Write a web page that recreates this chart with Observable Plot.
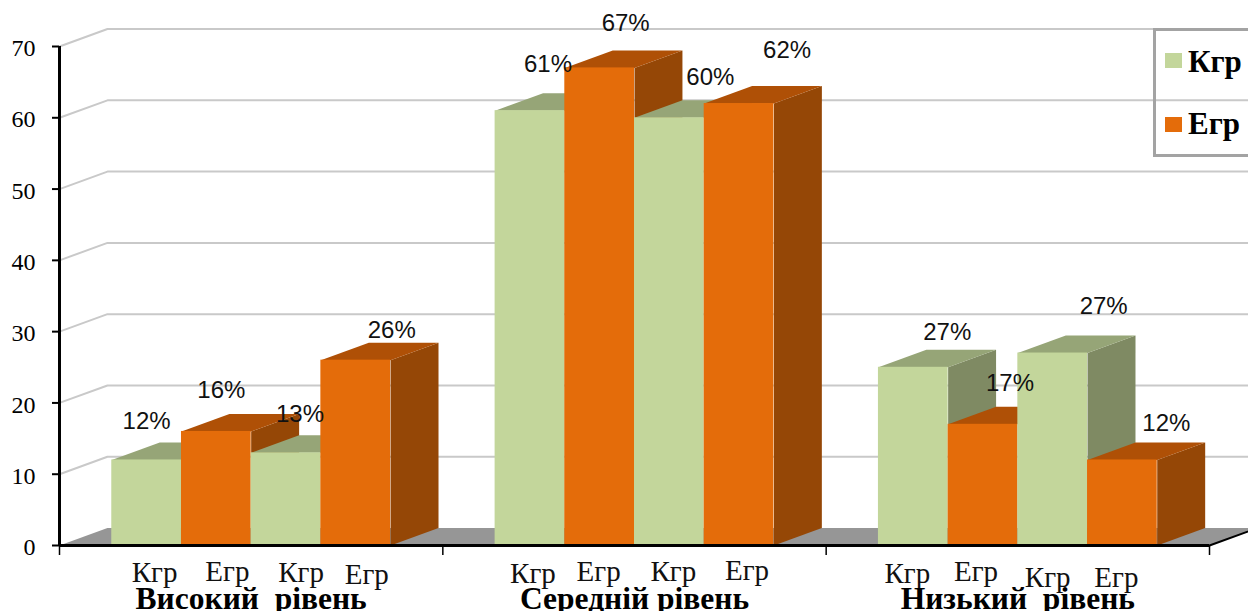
<!DOCTYPE html>
<html>
<head>
<meta charset="utf-8">
<script src="https://cdn.jsdelivr.net/npm/d3@7"></script>
<script src="https://cdn.jsdelivr.net/npm/@observablehq/plot@0.6"></script>
<style>
html,body{margin:0;padding:0;background:#fff;overflow:hidden}
#wrap{position:relative;width:1248px;height:611px;overflow:hidden}
#legend{position:absolute;left:1153px;top:28px;width:110px;height:123px;border:3px solid #a3a3a3;font:bold 31px "Liberation Serif",serif;color:#000}
#legend .row{position:absolute;left:0;display:flex;align-items:center;height:34px}
#legend .sw{width:17px;height:15px;margin-left:9px;margin-right:6px;position:relative}
#chart svg [aria-label="y-axis tick label"]{font-family:"Liberation Serif",serif;font-size:24px;fill:#000}
</style>
</head>
<body>
<div id="wrap">
<div id="chart"></div>
<div id="legend">
  <div class="row" style="top:14px"><span class="sw" style="background:#C3D69B;top:-1.5px"></span><span>Кгр</span></div>
  <div class="row" style="top:76px"><span class="sw" style="background:#E46C0A;top:0.5px"></span><span>Егр</span></div>
</div>
</div>
<script>
// --- data ---
const groups = ["Високий\u00a0 рівень", "Середній рівень", "Низький\u00a0 рівень"];
const seriesNames = ["Кгр", "Егр", "Кгр", "Егр"];
const values = [12, 16, 13, 26, 61, 67, 60, 62, 25, 17, 27, 12];
const percentLabels = ["12%", "16%", "13%", "26%", "61%", "67%", "60%", "62%", "27%", "17%", "27%", "12%"];
const yTicks = [0, 10, 20, 30, 40, 50, 60, 70];

// --- layout: hand placement of the labels, as in the reference (px) ---
const pctDx = [0, 5, 14, 36, 18, 26, 41, 48, 34, 27, 51, 44];
const pctDy = [-39, -41, -39, -30, -46, -45, -40, -53, -35, -41, -47, -37];
const catDx = [8, 11, 15, 11, 3, -1, 4, 8, -6, -7, -5, -6];
const catDy = [27, 26, 27, 29, 28, 26, 26, 25, 28, 26, 32, 32];

// --- 3D geometry in scale units ---
const groupSpan = 5.5, gap = 0.75, depthX = 0.688, depthY = 2.45;
const barX = i => Math.floor(i / 4) * groupSpan + gap + i % 4;
const poly = (pts, fill) => Plot.line(pts, {x: "0", y: "1", fill, stroke: "none", curve: "linear"});

const colors = {
  Кгр: {front: "#C3D69B", top: "#96A577", side: "#7F8A63"},
  Егр: {front: "#E46C0A", top: "#AF5006", side: "#954706"}
};
const xMax = groupSpan * groups.length;

const marks = [];
// floor
marks.push(poly([[0, 0], [depthX, depthY], [xMax + depthX, depthY], [xMax, 0]], "#969696"));
// gridlines on the side and back walls
for (const t of yTicks.slice(1)) {
  marks.push(Plot.line([[0, t], [depthX, t + depthY], [xMax + depthX, t + depthY]],
    {x: "0", y: "1", stroke: "#c9c9c9", strokeWidth: 2}));
}
// bars, painted from left to right
values.forEach((v, i) => {
  const x0 = barX(i), x1 = x0 + 1, c = colors[seriesNames[i % 4]];
  marks.push(poly([[x1, 0], [x1 + depthX, depthY], [x1 + depthX, v + depthY], [x1, v]], c.side));
  marks.push(poly([[x0, v], [x0 + depthX, v + depthY], [x1 + depthX, v + depthY], [x1, v]], c.top));
  marks.push(Plot.rect([v], {x1: () => x0, x2: () => x1, y1: () => 0, y2: d => d, fill: c.front}));
});
// axes
marks.push(Plot.ruleX([0], {y1: 0, y2: 70, stroke: "#000", strokeWidth: 3}));
marks.push(Plot.ruleY([0], {x1: 0, x2: xMax, stroke: "#000", strokeWidth: 3}));
marks.push(Plot.line([[xMax, 0], [xMax + depthX, depthY]], {x: "0", y: "1", stroke: "#000", strokeWidth: 2}));
marks.push(Plot.ruleX(d3.range(groups.length + 1).map(k => k * groupSpan), {y1: 0, y2: -1.4, stroke: "#000", strokeWidth: 1.5}));
marks.push(Plot.axisY({ticks: yTicks, tickSize: 7, tickFormat: () => "", label: null, stroke: "#000", strokeWidth: 2}));
marks.push(Plot.axisY({ticks: yTicks, tickSize: 0, tickPadding: 24, dy: 2, label: null}));
// value labels
values.forEach((v, i) => {
  marks.push(Plot.text([percentLabels[i]], {
    x: () => barX(i) + 0.5, y: () => v, dx: pctDx[i], dy: pctDy[i],
    fontFamily: "Liberation Sans", fontSize: 24, fill: "#111"
  }));
  marks.push(Plot.text([seriesNames[i % 4]], {
    x: () => barX(i) + 0.5, y: () => 0, dx: catDx[i], dy: catDy[i],
    fontFamily: "Liberation Serif", fontSize: 29, fill: "#111"
  }));
});
// group labels
marks.push(Plot.text(groups, {
  x: (d, i) => (i + 0.5) * groupSpan, y: () => 0, dy: 53,
  fontFamily: "Liberation Serif", fontWeight: "bold", fontSize: 31.5, fill: "#000"
}));

const chart = Plot.plot({
  width: 1248, height: 611,
  marginLeft: 59, marginRight: 39, marginTop: 46, marginBottom: 66,
  style: {background: "transparent", overflow: "hidden"},
  x: {domain: [0, xMax], axis: null},
  y: {domain: [0, 70], axis: null},
  marks
});
document.getElementById("chart").append(chart);
</script>
</body>
</html>
